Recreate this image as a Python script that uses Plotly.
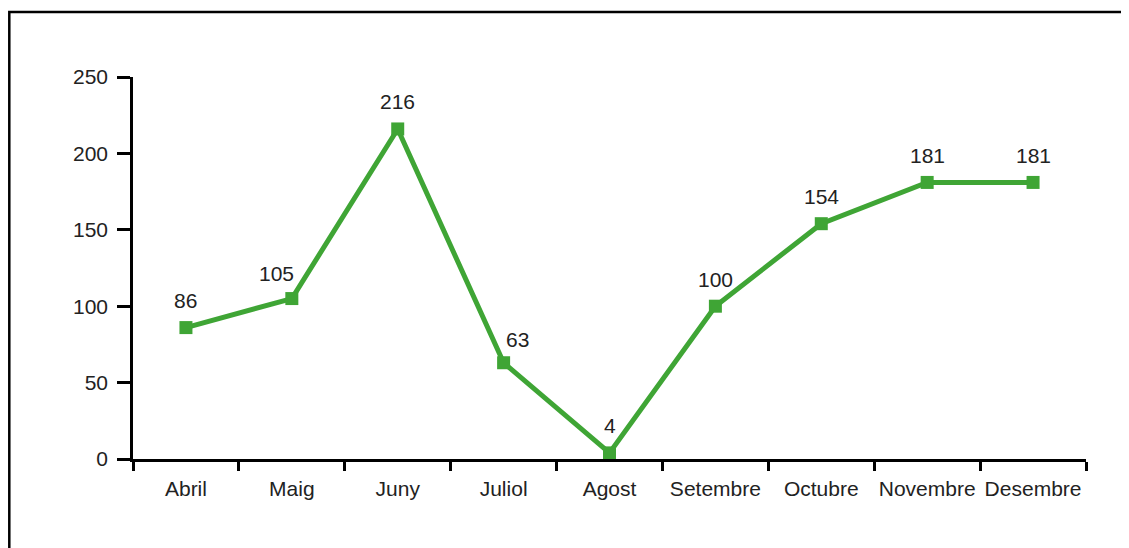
import plotly.graph_objects as go

months = ["Abril", "Maig", "Juny", "Juliol", "Agost", "Setembre", "Octubre", "Novembre", "Desembre"]
values = [86, 105, 216, 63, 4, 100, 154, 181, 181]
y_ticks = [0, 50, 100, 150, 200, 250]

# label nudges (pixels) so value labels clear the line, as in the reference
label_dx = [0, -15, 0, 14, 0, 0, 0, 0, 0]
label_dy = [27, 25, 27, 23, 27, 27, 27, 27, 27]

green = "#3fa535"
font_family = "Liberation Sans, Arial, sans-serif"
txt_color = "#222222"
fs = 21

fig = go.Figure()
fig.add_trace(go.Scatter(
    x=months, y=values,
    mode="lines+markers",
    line=dict(color=green, width=5),
    marker=dict(symbol="square", size=13, color=green),
    cliponaxis=False,
    showlegend=False,
))

for m, v, dx, dy in zip(months, values, label_dx, label_dy):
    fig.add_annotation(x=m, y=v, text=str(v), showarrow=False, xshift=dx, yshift=dy,
                       font=dict(size=fs, color=txt_color, family=font_family))

# page body has an 8px margin; compensate so the plot lands where the reference has it
OFF = 8
W, H = 1129 - OFF, 548 - OFF
l, r, t, b = 133 - OFF, 43, 77 - OFF, 89
pw, ph = W - l - r, H - t - b

def px_x(page_x):
    return (page_x - OFF - l) / pw

def px_y(page_y):
    return (H - b - (page_y - OFF)) / ph

fig.update_layout(
    width=W, height=H,
    margin=dict(l=l, r=r, t=t, b=b, autoexpand=False),
    paper_bgcolor="white", plot_bgcolor="white",
    font=dict(family=font_family, size=fs, color=txt_color),
    xaxis=dict(
        type="category", range=[-0.5, 8.5],
        tickson="boundaries", ticks="outside", ticklen=9, tickwidth=2.5, tickcolor="black",
        showline=True, linecolor="black", linewidth=2.5,
        showgrid=False, zeroline=False, fixedrange=True,
        tickangle=0, automargin=False,
        ticklabelstandoff=9,
        tickfont=dict(size=fs, color=txt_color),
    ),
    yaxis=dict(
        range=[0, 250], tickvals=y_ticks,
        ticks="outside", ticklen=13, tickwidth=2.5, tickcolor="black",
        showline=True, linecolor="black", linewidth=2.5,
        showgrid=False, zeroline=False, fixedrange=True,
        automargin=False,
        ticklabelstandoff=5,
        tickfont=dict(size=fs, color=txt_color),
    ),
    shapes=[dict(
        type="rect", xref="paper", yref="paper",
        x0=px_x(9.3), x1=px_x(1160),
        y0=px_y(580), y1=px_y(12),
        line=dict(color="black", width=2.5), fillcolor="rgba(0,0,0,0)", layer="below",
    )],
)

fig.write_html("out.html")
